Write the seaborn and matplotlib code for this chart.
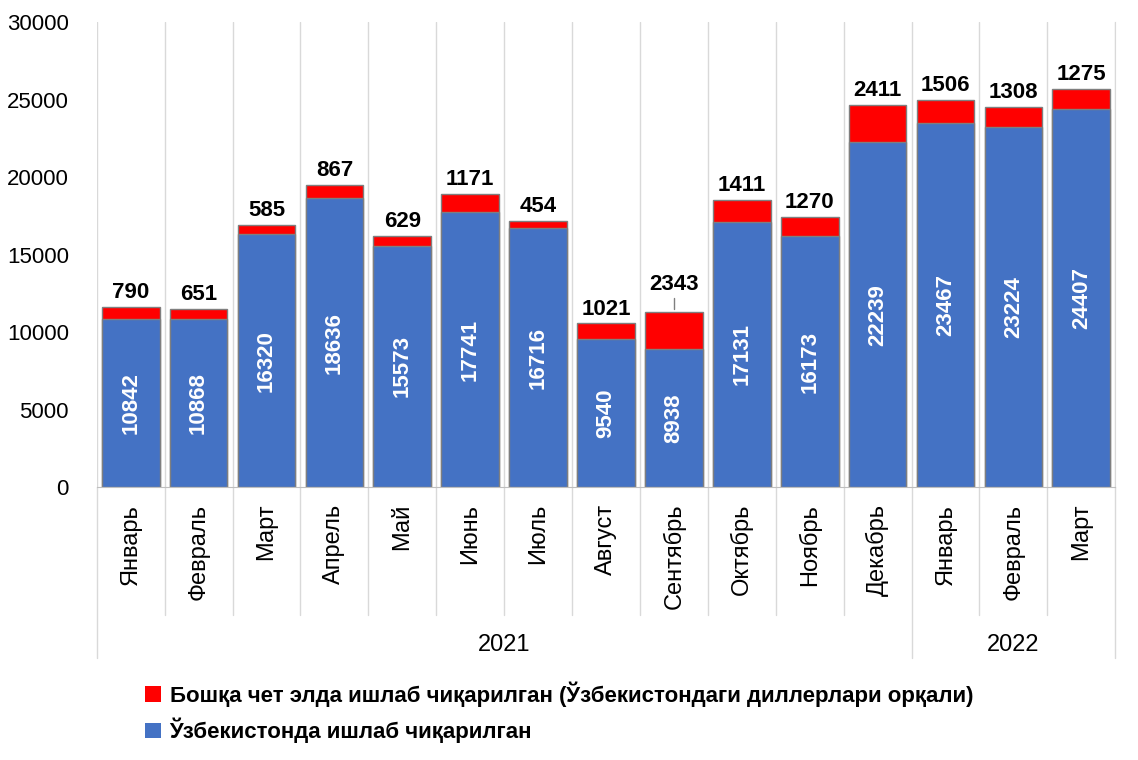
import matplotlib
matplotlib.use("Agg")
import matplotlib.pyplot as plt
import matplotlib.transforms as mtransforms
from matplotlib.patches import Patch
import seaborn as sns
import pandas as pd

months = ['Январь', 'Февраль', 'Март', 'Апрель', 'Май', 'Июнь', 'Июль', 'Август',
          'Сентябрь', 'Октябрь', 'Ноябрь', 'Декабрь', 'Январь', 'Февраль', 'Март']
local = [10842, 10868, 16320, 18636, 15573, 17741, 16716, 9540, 8938, 17131, 16173,
         22239, 23467, 23224, 24407]
foreign = [790, 651, 585, 867, 629, 1171, 454, 1021, 2343, 1411, 1270, 2411, 1506, 1308, 1275]
years = ['2021', '2022']
year_sizes = [12, 3]

sns.set_style("white")
plt.rcParams['font.family'] = ['Liberation Sans', 'DejaVu Sans']
plt.rcParams['text.color'] = 'black'
plt.rcParams['xtick.color'] = 'black'
plt.rcParams['ytick.color'] = 'black'

df = pd.DataFrame({'pos': [str(i) for i in range(len(months))],
                   'local': local,
                   'total': [a + b for a, b in zip(local, foreign)]})

fig = plt.figure(figsize=(11.38, 7.6), dpi=100)
ax = fig.add_axes([0.085, 0.359, 0.895, 0.612])

sns.barplot(data=df, x='pos', y='total', color='#FF0000', saturation=1, width=0.85,
            edgecolor='#7f7f7f', linewidth=1, ax=ax)
sns.barplot(data=df, x='pos', y='local', color='#4472C4', saturation=1, width=0.85,
            edgecolor='#7f7f7f', linewidth=1, ax=ax)

ax.set_ylim(0, 30000)
ax.set_xlim(-0.5, len(months) - 0.5)
ax.set_yticks(range(0, 30001, 5000))
ax.tick_params(axis='y', labelsize=16, length=0, pad=20)
ax.set_xticks(range(len(months)))
ax.set_xticklabels(months, rotation=90, fontsize=17)
ax.tick_params(axis='x', length=0, pad=12)
ax.set_xlabel('')
ax.set_ylabel('')
for s in ['top', 'left']:
    ax.spines[s].set_visible(False)
ax.spines['right'].set_color('#d9d9d9')
ax.spines['bottom'].set_color('#bfbfbf')

trans = mtransforms.blended_transform_factory(ax.transData, ax.transAxes)
for i in range(len(months) + 1):
    x = i - 0.5
    big = i in (0, 12, len(months))
    ax.plot([x, x], [0, 1], color='#d9d9d9', lw=1, transform=trans, zorder=0)
    ax.plot([x, x], [0, -0.368 if big else -0.275], color='#d9d9d9', lw=1,
            transform=trans, clip_on=False)
start = 0
for yr, n in zip(years, year_sizes):
    ax.text(start + n / 2 - 0.5, -0.34, yr, transform=trans, ha='center', va='center',
            fontsize=17)
    start += n

for i, (l, f) in enumerate(zip(local, foreign)):
    ax.text(i, l / 2, str(l), rotation=90, ha='center', va='center', color='white',
            fontsize=16, fontweight='bold')
    if i == 8:
        ax.plot([i, i], [l + f + 200, l + f + 900], color='#7f7f7f', lw=1)
        ax.text(i, l + f + 1100, str(f), ha='center', va='bottom', fontsize=16,
                fontweight='bold')
    else:
        ax.text(i, l + f + 250, str(f), ha='center', va='bottom', fontsize=16,
                fontweight='bold')

handles = [Patch(facecolor='#FF0000', edgecolor='none'),
           Patch(facecolor='#4472C4', edgecolor='none')]
labels = ['Бошқа чет элда ишлаб чиқарилган (Ўзбекистондаги диллерлари орқали)',
          'Ўзбекистонда ишлаб чиқарилган']
fig.legend(handles, labels, loc='upper left', bbox_to_anchor=(0.11, 0.13),
           frameon=False, prop={'size': 16, 'weight': 'bold'}, handlelength=0.7,
           handleheight=0.7, handletextpad=0.4, labelspacing=0.5)

fig.savefig('out.png', dpi=100)
